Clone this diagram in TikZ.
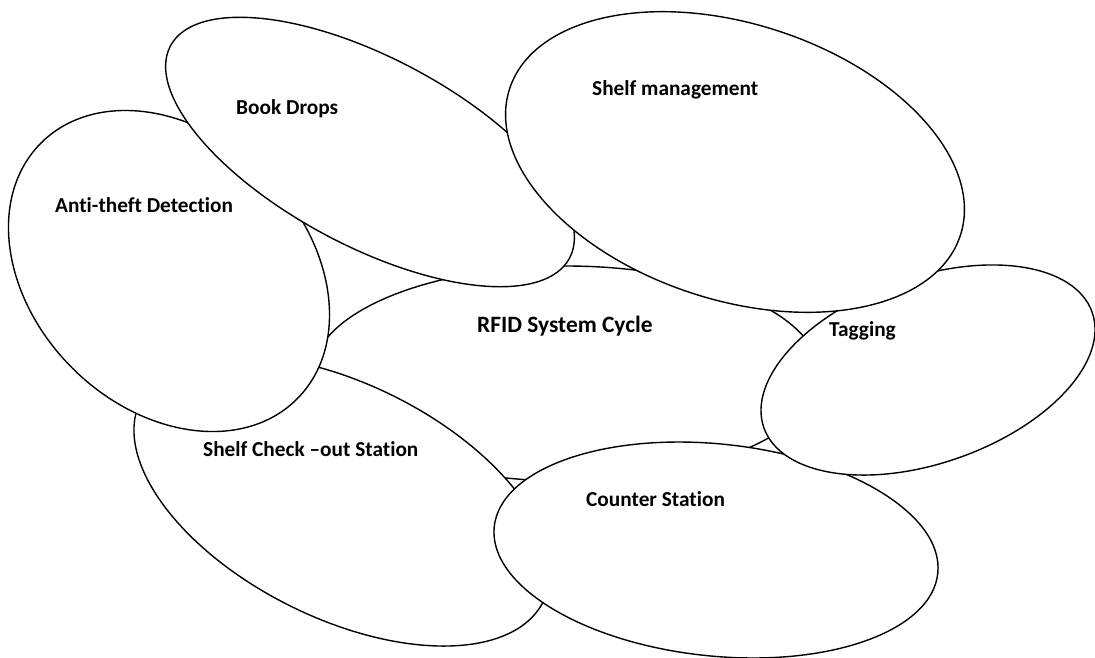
\documentclass[tikz,border=0pt]{standalone}
\usepackage{fontspec}
\setmainfont{Carlito}[RawFeature={-liga;-dlig;-clig}]
\usetikzlibrary{shapes.geometric}
\tikzset{
  ell/.style={ellipse, draw=black, fill=white, line width=1.4pt, inner sep=0pt, outer sep=0pt},
  lbl/.style={anchor=base west, inner sep=0pt, font=\fontsize{21.3}{25}\selectfont\bfseries},
  biglbl/.style={anchor=base west, inner sep=0pt, font=\fontsize{23.4}{28}\selectfont\bfseries}
}
\begin{document}
\begin{tikzpicture}[x=1pt, y=-1pt]
\useasboundingbox (0,0) rectangle (1095,657);
% ellipses, bottom to top
\node[ell, minimum width=506pt, minimum height=215pt] (cycle) at (566,373.5) {};
\node[ell, minimum width=450pt, minimum height=234pt, rotate=-26.5] (checkout) at (342,501) {};
\node[ell, minimum width=446pt, minimum height=212pt, rotate=-6] (counter) at (716,550) {};
\node[ell, minimum width=348pt, minimum height=186pt, rotate=19.4] (tagging) at (928,370) {};
\node[ell, minimum width=362pt, minimum height=274pt, rotate=-45] (antitheft) at (169,271) {};
\node[ell, minimum width=452pt, minimum height=188pt, rotate=-28] (bookdrops) at (370,152) {};
\node[ell, minimum width=474pt, minimum height=276pt, rotate=-18] (shelfmgmt) at (735,162) {};
% labels
\node[lbl] (tbook) at (236,114) {Book Drops};
\node[lbl] (tanti) at (55,212.7) {Anti-theft Detection};
\node[lbl] (tshelf) at (592,95.7) {Shelf management};
\node[biglbl] (tcycle) at (477,332.7) {RFID System Cycle};
\node[lbl] (tcheck) at (203,456.7) {Shelf Check –out Station};
\node[lbl] (tcounter) at (586,506.7) {Counter Station};
\node[lbl] (ttag) at (829,336) {Tagging};
\end{tikzpicture}
\end{document}
